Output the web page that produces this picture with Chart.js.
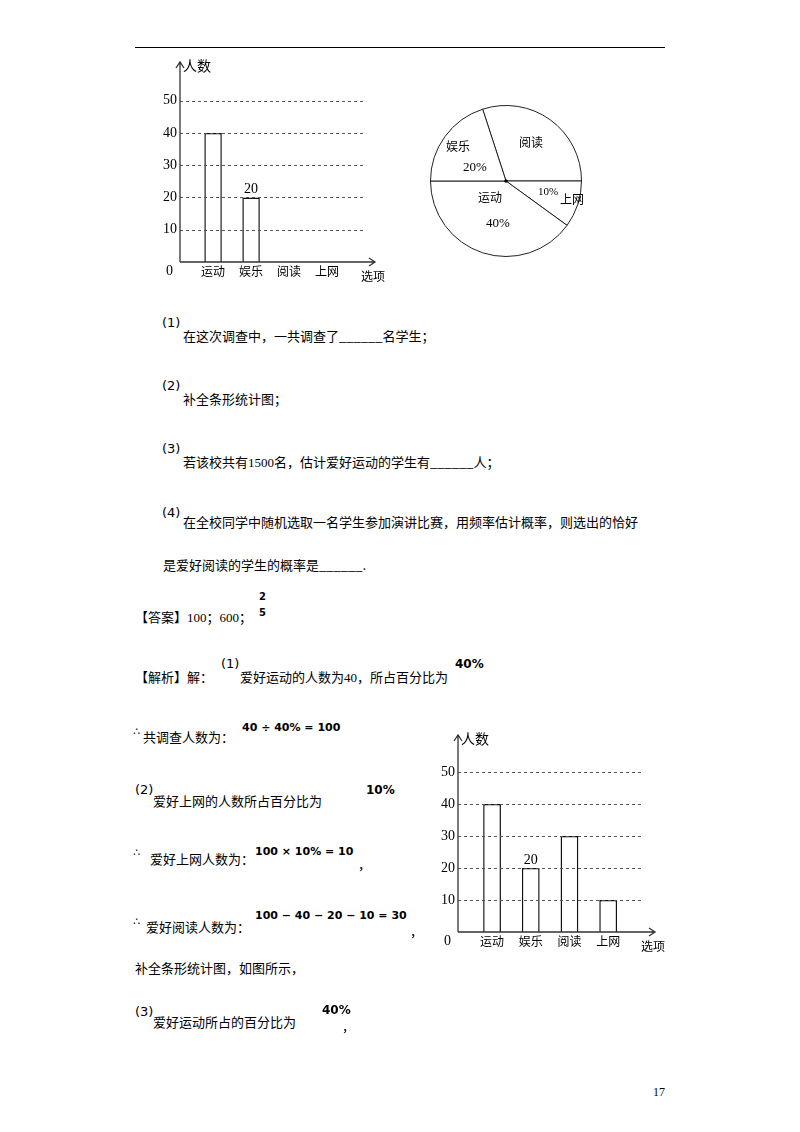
<!DOCTYPE html>
<html><head><meta charset="utf-8">
<script src="https://cdn.jsdelivr.net/npm/chart.js@4"></script>
<style>
body{margin:0;background:#fff;width:800px;height:1132px;position:relative;overflow:hidden;font-family:"Noto Sans CJK SC","Liberation Serif",serif;color:#000}
.t{position:absolute;font-size:13px;white-space:nowrap;transform:translateY(-50%);line-height:16px}
.n{font-family:"Liberation Serif",serif}
.m{font-family:"DejaVu Sans",sans-serif;font-weight:bold}
.s{font-family:"DejaVu Sans",sans-serif;font-size:13px}
canvas{position:absolute}
</style></head><body>
<div style="position:absolute;left:135px;top:47px;width:530px;height:1px;background:#000"></div>
<canvas id="c1" width="240" height="240" style="left:150px;top:55px"></canvas>
<canvas id="pie" width="152" height="152" style="left:430px;top:105px"></canvas>
<canvas id="c2" width="250" height="240" style="left:420px;top:720px"></canvas>
<div id="txt"></div>
<script>
const categories=["运动","娱乐","阅读","上网"];
const partialValues=[40,20,null,null];
const fullValues=[40,20,30,10];
const piePercents=[30,10,40,20];
const pieLabels=["阅读","上网","运动","娱乐"];
const yTicks=[10,20,30,40,50];

function axisPlugin(o){return{id:'ax',afterDraw(ch){
 const c=ch.ctx,x=ch.scales.x,y=ch.scales.y,a=ch.chartArea;
 c.save();c.lineWidth=1;
 c.setLineDash([3,3]);c.strokeStyle='#555';
 yTicks.forEach(v=>{const py=Math.round(y.getPixelForValue(v))+.5;c.beginPath();c.moveTo(a.left,py);c.lineTo(a.left+o.gridLen,py);c.stroke();});
 c.setLineDash([]);c.strokeStyle='#333';c.lineWidth=1.3;
 const y0=y.getPixelForValue(0);
 c.beginPath();c.moveTo(a.left,y0);c.lineTo(a.left,a.top);c.moveTo(a.left-4,a.top+6);c.lineTo(a.left,a.top);c.lineTo(a.left+4,a.top+6);
 c.moveTo(a.left,y0);c.lineTo(a.right,y0);c.moveTo(a.right-6,y0-4);c.lineTo(a.right,y0);c.lineTo(a.right-6,y0+4);c.stroke();
 c.fillStyle='#000';c.font='14px "Liberation Serif"';c.textAlign='right';c.textBaseline='middle';
 yTicks.forEach(v=>c.fillText(String(v),a.left-3,y.getPixelForValue(v)));
 c.fillText('0',a.left-7,y0+9);
 c.font='12px "Noto Sans CJK SC"';c.textAlign='center';c.textBaseline='top';
 categories.forEach((l,i)=>c.fillText(l,x.getPixelForValue(i+1),y0+3));
 c.fillText('选项',a.right-2,y0+8);
 c.font='14px "Noto Sans CJK SC"';c.textAlign='left';c.textBaseline='middle';c.fillText('人数',a.left+3,a.top+4);
 c.font='14px "Liberation Serif"';c.textAlign='center';c.textBaseline='bottom';
 c.fillText('20',x.getPixelForValue(2),y.getPixelForValue(20)-1);
 c.restore();}}}
function bar(id,vals,pad,xmin,xmax,ymax,gridLen){
 new Chart(document.getElementById(id),{type:'bar',
  data:{datasets:[{data:vals.map((v,i)=>({x:i+1,y:v})),backgroundColor:'#fff',borderColor:'#111',borderWidth:1.5,barPercentage:0.46,categoryPercentage:1}]},
  options:{responsive:false,animation:false,layout:{padding:pad},plugins:{legend:{display:false},tooltip:{enabled:false}},
   scales:{x:{type:'linear',offset:false,min:xmin,max:xmax,display:false},y:{min:0,max:ymax,display:false}}},
  plugins:[axisPlugin({gridLen})]});
}
bar('c1',partialValues,{left:30,right:15,top:7,bottom:33},0.13,5.26,62,185);
bar('c2',fullValues,{left:38,right:15,top:15,bottom:28},0.12,5.21,61.6,184);
new Chart(document.getElementById('pie'),{type:'pie',data:{labels:pieLabels,datasets:[{data:piePercents,backgroundColor:'#fff',borderColor:'#222',borderWidth:1}]},
 options:{responsive:false,animation:false,rotation:-18,plugins:{legend:{display:false},tooltip:{enabled:false}}},
 plugins:[{id:'dot',afterDraw(ch){const c=ch.ctx,m=ch.getDatasetMeta(0).data[0];c.beginPath();c.arc(m.x,m.y,1.8,0,7);c.fillStyle='#000';c.fill();}}]});

const T=[
 [446,146,'娱乐','',12],[463,167,'20%','n',13],[519,142,'阅读','',12],[478,197,'运动','',12],[486,223,'40%','n',13],[538,191,'10%','n',11],[560,199,'上网','',12],
 [162,323,'(1)','s',13],[183,336,'在这次调查中，一共调查了______名学生；','',13],
 [162,386,'(2)','s',13],[183,399,'补全条形统计图；','',13],
 [162,449,'(3)','s',13],[183,462,'若该校共有<span class="n">1500</span>名，估计爱好运动的学生有______人；','',13],
 [162,513,'(4)','s',13],[183,522,'在全校同学中随机选取一名学生参加演讲比赛，用频率估计概率，则选出的恰好','',13],
 [163,565,'是爱好阅读的学生的概率是______.','',13],
 [135,617,'【答案】<span class="n">100</span>；<span class="n">600</span>；','',13],
 [259,597,'2','m',10],[259,613,'5','m',10],
 [135,677,'【解析】解：','',13],[221,664,'(1)','s',13],[240,677,'爱好运动的人数为<span class="n">40</span>，所占百分比为','',13],[455,664,'40%','m',12],
 [133,732,'∴','s',11],[143,737,'共调查人数为：','',13],[242,728,'40 ÷ 40% = 100','m',11],
 [135,790,'(2)','s',13],[153,801,'爱好上网的人数所占百分比为','',13],[366,790,'10%','m',12],
 [133,853,'∴','s',11],[150,859,'爱好上网人数为：','',13],[255,852,'100 × 10% = 10','m',11],[358,864,'，','',13],
 [133,922,'∴','s',11],[146,927,'爱好阅读人数为：','',13],[255,916,'100 − 40 − 20 − 10 = 30','m',11],[410,931,'，','',13],
 [135,968,'补全条形统计图，如图所示，','',13],
 [135,1012,'(3)','s',13],[153,1022,'爱好运动所占的百分比为','',13],[322,1010,'40%','m',12],[342,1026,'，','',13],
 [653,1092,'17','n',12]
];
document.getElementById('txt').innerHTML=T.map(t=>`<div class="t ${t[3]}" style="left:${t[0]}px;top:${t[1]}px;font-size:${t[4]}px">${t[2]}</div>`).join('');
</script></body></html>
